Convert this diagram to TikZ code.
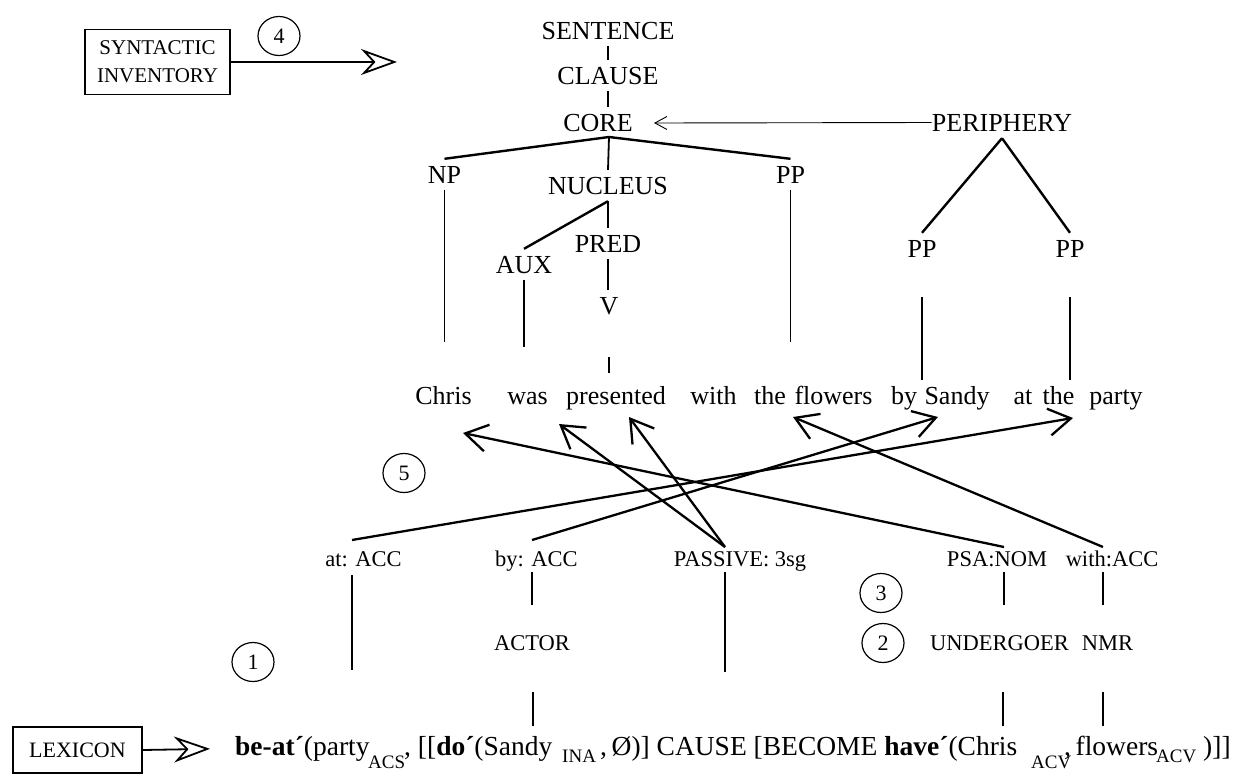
\documentclass[tikz,border=0pt]{standalone}
\usepackage{fontspec}
\setmainfont{Liberation Serif}
\usetikzlibrary{arrows.meta,shapes.geometric}

\begin{document}
\begin{tikzpicture}[x=1pt,y=-1pt,
  treelabel/.style={font=\fontsize{26}{30}\selectfont, anchor=base, inner xsep=0pt, inner ysep=7pt, text height=17pt, text depth=0pt},
  word/.style={font=\fontsize{26}{30}\selectfont, anchor=base, inner sep=0pt, text height=18pt, text depth=5pt},
  lab/.style={font=\fontsize{22.5}{27}\selectfont, anchor=base, inner sep=0pt, text height=15pt, text depth=5pt},
  formula/.style={font=\fontsize{27.5}{32}\selectfont, anchor=base west, inner sep=0pt},
  subscr/.style={font=\fontsize{19}{22}\selectfont, anchor=base west, inner sep=0pt},
  numcirc/.style={draw, ellipse, line width=1.2pt, minimum width=42pt, minimum height=39pt, inner sep=0pt, font=\fontsize{22}{26}\selectfont},
  boxlabel/.style={draw, line width=1.4pt, font=\fontsize{21}{28}\selectfont, align=center, inner sep=0pt},
  branch/.style={line width=2.4pt},
  stem/.style={line width=1.8pt},
  link/.style={line width=2.3pt, -{Straight Barb[length=22pt,width=27pt]}},
  bigarrow/.style={line width=1.8pt, -{Stealth[open,length=36pt,width=26pt,inset=12pt]}},
  thinarrow/.style={line width=0.9pt, -{Straight Barb[length=12pt,width=13pt]}}
]
\fill[white] (0,0) rectangle (1243,774);
\useasboundingbox (0,0) rectangle (1243,774);

% inventory box and its arrow
\node[boxlabel, minimum width=145pt, minimum height=65pt] (syninv) at (157.5,62) {SYNTACTIC\\INVENTORY};
\coordinate (synTip) at (397,62);
\draw[bigarrow] (syninv.east) -- (synTip);
\node[numcirc] (n4) at (279,36) {4};

% layered structure of the clause
\node[treelabel] (sentence) at (608,39) {SENTENCE};
\node[treelabel] (clause) at (608,84) {CLAUSE};
\node[treelabel] (core) at (598,131) {CORE};
\node[treelabel] (periphery) at (1002,131) {PERIPHERY};
\node[treelabel] (np) at (444.5,183) {NP};
\node[treelabel] (nucleus) at (608,194) {NUCLEUS};
\node[treelabel] (ppcore) at (790.5,183) {PP};
\node[treelabel] (aux) at (524,273) {AUX};
\node[treelabel] (pred) at (608,252) {PRED};
\node[treelabel] (verb) at (609,314) {V};
\node[treelabel] (ppby) at (922,257) {PP};
\node[treelabel] (ppat) at (1070,257) {PP};

\coordinate (coreJ) at (609,137);
\coordinate (coreTip) at (654,123);
\draw[stem] (sentence.south) -- (clause.north);
\draw[stem] (clause.south) -- (clause.south |- core.north);
\draw[branch] (coreJ) -- (np.north);
\draw[stem] (coreJ) -- (nucleus.north);
\draw[branch] (coreJ) -- (ppcore.north);
\draw[thinarrow] (periphery.west) -- (coreTip);
\draw[branch] (periphery.south) -- (ppby.north);
\draw[branch] (periphery.south) -- (ppat.north);
\draw[branch] (nucleus.south) -- (aux.north);
\draw[stem] (nucleus.south) -- (nucleus.south |- pred.north);
\draw[stem] (pred.south) -- (pred.south |- verb.north);

% the sentence
\node[word] (chris) at (443.5,404) {Chris};
\node[word] (was) at (527.5,404) {was};
\node[word] (presented) at (616,404) {presented};
\node[word] (with) at (713.5,404) {with};
\node[word] (the1) at (770,404) {the};
\node[word] (flowers) at (833.5,404) {flowers};
\node[word] (by) at (904,404) {by};
\node[word] (sandy) at (957,404) {Sandy};
\node[word] (at) at (1023,404) {at};
\node[word] (the2) at (1058.5,404) {the};
\node[word] (party) at (1116,404) {party};

\draw[stem, shorten >=44pt] (np.south) -- (np.south |- chris.north);
\draw[stem, shorten >=39pt] (aux.south) -- (aux.south |- was.north);
\draw[stem, shorten <=36pt, shorten >=13pt] (verb.south) -- (verb.south |- presented.north);
\draw[stem, shorten >=44pt] (ppcore.south) -- (ppcore.south |- flowers.north);
\draw[stem, shorten <=33pt, shorten >=6pt] (ppby.south) -- (ppby.south |- sandy.north);
\draw[stem, shorten <=33pt, shorten >=6pt] (ppat.south) -- (ppat.south |- party.north);

% case and function labels
\node[lab] (atacc) at (363.5,566) {at: ACC};
\node[lab] (byacc) at (536.5,566) {by: ACC};
\node[lab] (passive) at (740,566) {PASSIVE: 3sg};
\node[lab] (psanom) at (997,566) {PSA:NOM};
\node[lab] (withacc) at (1112,566) {with:ACC};
\node[lab] (actor) at (532,650) {ACTOR};
\node[lab] (undergoer) at (999.5,650) {UNDERGOER};
\node[lab] (nmr) at (1107.5,650) {NMR};

\node[numcirc] (n5) at (404,473) {5};
\node[numcirc] (n1) at (253,662) {1};
\node[numcirc] (n3) at (881,593) {3};
\node[numcirc] (n2) at (883,643) {2};

% linking arrows
\coordinate (atT) at (352,540);
\coordinate (byT) at (532,540);
\coordinate (passT) at (725,547);
\coordinate (psaT) at (1004,547);
\coordinate (withT) at (1103,547);
\coordinate (tipChris) at (463,433);
\coordinate (tipWas) at (559,424);
\coordinate (tipPres) at (629,417);
\coordinate (tipFlowers) at (793,417);
\coordinate (tipSandy) at (938,417);
\coordinate (tipParty) at (1073,418);
\draw[link] (psaT) -- (tipChris);
\draw[link] (passT) -- (tipWas);
\draw[link] (passT) -- (tipPres);
\draw[link] (withT) -- (tipFlowers);
\draw[link] (byT) -- (tipSandy);
\draw[link] (atT) -- (tipParty);

% logical structure
\node[boxlabel, minimum width=129pt, minimum height=46pt, font=\fontsize{22}{26}\selectfont] (lexicon) at (77.5,750) {LEXICON};
\node[formula] (f1) at (235,755) {\textbf{be-at´}(party};
\node[subscr] (s1) at (368,768) {ACS};
\node[formula] (f2) at (404,755) {, [[\textbf{do´}(Sandy};
\node[subscr] (s2) at (562,762) {INA};
\node[formula] (f3) at (600,755) {,\,Ø)] CAUSE [BECOME \textbf{have´}(Chris};
\node[subscr] (s3) at (1031,768) {ACV};
\node[formula] (f4) at (1064,755) {,\,flowers};
\node[subscr] (s4) at (1156,762) {ACV};
\node[formula] (f5) at (1203,755) {)]]};
\draw[bigarrow, shorten >=25pt] (lexicon.east) -- (f1.west);

\coordinate (atB) at (352,670);
\coordinate (passB) at (725,672);
\coordinate (sandyFoot) at (533,726);
\coordinate (chrisFoot) at (1003,726);
\coordinate (flowersFoot) at (1103,726);
\draw[stem, shorten <=4pt] (atacc.south -| atT) -- (atB);
\draw[stem, shorten <=1pt] (passive.south -| passT) -- (passB);
\draw[stem, shorten <=1pt, shorten >=30pt] (byacc.south -| byT) -- (actor.north -| byT);
\draw[stem, shorten <=37pt] (actor.south -| sandyFoot) -- (sandyFoot);
\draw[stem, shorten <=1pt, shorten >=30pt] (psanom.south -| psaT) -- (undergoer.north -| psaT);
\draw[stem, shorten <=37pt] (undergoer.south -| chrisFoot) -- (chrisFoot);
\draw[stem, shorten <=1pt, shorten >=30pt] (withacc.south -| withT) -- (nmr.north -| withT);
\draw[stem, shorten <=37pt] (nmr.south -| flowersFoot) -- (flowersFoot);
\end{tikzpicture}
\end{document}
